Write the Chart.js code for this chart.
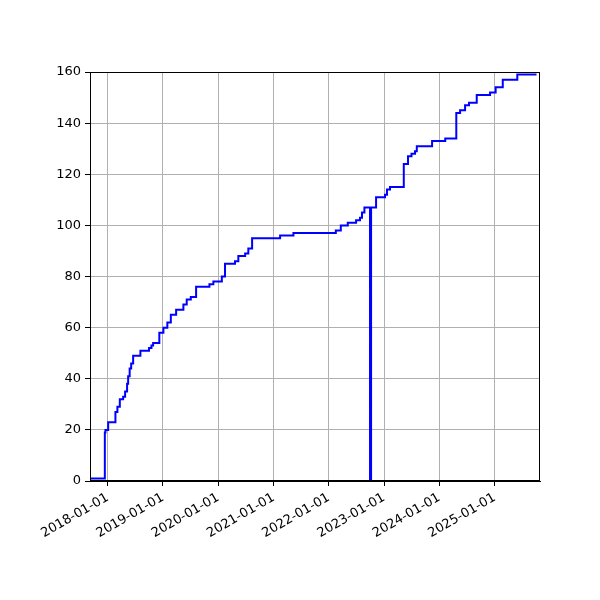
<!DOCTYPE html>
<html>
<head>
<meta charset="utf-8">
<script src="https://cdn.jsdelivr.net/npm/chart.js@4.4.1/dist/chart.umd.min.js"></script>
<style>
  html, body { margin: 0; padding: 0; background: #ffffff; }
  #wrap { width: 600px; height: 600px; }
</style>
</head>
<body>
<div id="wrap"><canvas id="c" width="600" height="600"></canvas></div>
<script>
// Dates at which the cumulative count changes, and the new value from that date on
const dates = [
  '2017-09-07','2017-12-13','2017-12-17','2018-01-04','2018-02-21','2018-03-06','2018-03-22',
  '2018-04-13','2018-04-26','2018-05-09','2018-05-16','2018-05-26','2018-06-05','2018-06-18',
  '2018-08-05','2018-10-01','2018-10-17','2018-10-28','2018-12-08','2019-01-04','2019-01-30',
  '2019-02-22','2019-03-29','2019-05-16','2019-06-07','2019-07-04','2019-08-08','2019-11-04',
  '2019-11-30','2020-01-25','2020-02-15','2020-04-21','2020-05-13','2020-06-27','2020-07-18',
  '2020-08-12','2021-02-13','2021-05-12','2022-02-16','2022-03-21','2022-05-06','2022-06-30',
  '2022-07-26','2022-08-08','2022-08-24','2022-09-30','2022-10-07','2022-11-09','2023-01-07',
  '2023-01-20','2023-02-09','2023-05-11','2023-06-08','2023-07-01','2023-07-24','2023-08-05',
  '2023-11-14','2024-02-09','2024-04-22','2024-05-17','2024-06-19','2024-07-15','2024-09-04',
  '2024-12-01','2025-01-07','2025-02-23','2025-05-30','2025-10-04'
];
const values = [
  1, 19, 20, 23, 27, 29, 32,
  33, 35, 38, 41, 44, 46, 49,
  51, 52, 53, 54, 58, 60, 62,
  65, 67, 69, 71, 72, 76, 77,
  78, 80, 85, 86, 88, 89, 91,
  95, 96, 97, 98, 100, 101, 102,
  103, 105, 107, 0, 107, 111, 112,
  114, 115, 124, 127, 128, 129, 131,
  133, 134, 144, 145, 147, 148, 151,
  152, 154, 157, 159, 159
];
const xTickLabels = ['2018-01-01','2019-01-01','2020-01-01','2021-01-01','2022-01-01','2023-01-01','2024-01-01','2025-01-01'];
const yTicks = [0, 20, 40, 60, 80, 100, 120, 140, 160];
const xRange = ['2017-09-06', '2025-10-27'];

const points = dates.map((d, i) => ({ x: Date.parse(d), y: values[i] }));

const framePlugin = {
  id: 'frame',
  afterDraw(chart) {
    const a = chart.chartArea, ctx = chart.ctx;
    ctx.save();
    ctx.strokeStyle = '#000000';
    ctx.lineWidth = 1;
    ctx.strokeRect(Math.round(a.left) + 0.5, Math.round(a.top) + 0.5,
                   Math.round(a.right - a.left) - 1, Math.round(a.bottom - a.top) - 1);
    ctx.restore();
  }
};

new Chart(document.getElementById('c'), {
  type: 'line',
  data: {
    datasets: [{
      data: points,
      parsing: false,
      stepped: true,
      borderColor: '#0000ff',
      borderWidth: 2,
      pointRadius: 0,
      fill: false,
      tension: 0
    }]
  },
  options: {
    responsive: false,
    animation: false,
    devicePixelRatio: 1,
    layout: { padding: { top: 72, right: 60, left: 0, bottom: 0 } },
    plugins: { legend: { display: false }, tooltip: { enabled: false } },
    scales: {
      x: {
        type: 'linear',
        min: Date.parse(xRange[0]),
        max: Date.parse(xRange[1]),
        afterBuildTicks(axis) {
          axis.ticks = xTickLabels.map(t => ({ value: Date.parse(t) }));
        },
        afterFit(axis) { axis.height = 119; },
        ticks: {
          autoSkip: false,
          minRotation: 30,
          maxRotation: 30,
          padding: 4,
          color: '#000000',
          font: { family: 'DejaVu Sans', size: 13 },
          callback(value) { return new Date(value).toISOString().slice(0, 10); }
        },
        grid: { color: '#b0b0b0', lineWidth: 1, tickColor: '#000000', tickLength: 5 },
        border: { color: '#000000', width: 1 }
      },
      y: {
        min: 0,
        max: 160,
        afterBuildTicks(axis) {
          axis.ticks = yTicks.map(v => ({ value: v }));
        },
        afterFit(axis) { axis.width = 90; },
        ticks: {
          padding: 4,
          color: '#000000',
          font: { family: 'DejaVu Sans', size: 13 }
        },
        grid: { color: '#b0b0b0', lineWidth: 1, tickColor: '#000000', tickLength: 5 },
        border: { color: '#000000', width: 1 }
      }
    }
  },
  plugins: [framePlugin]
});
</script>
</body>
</html>
